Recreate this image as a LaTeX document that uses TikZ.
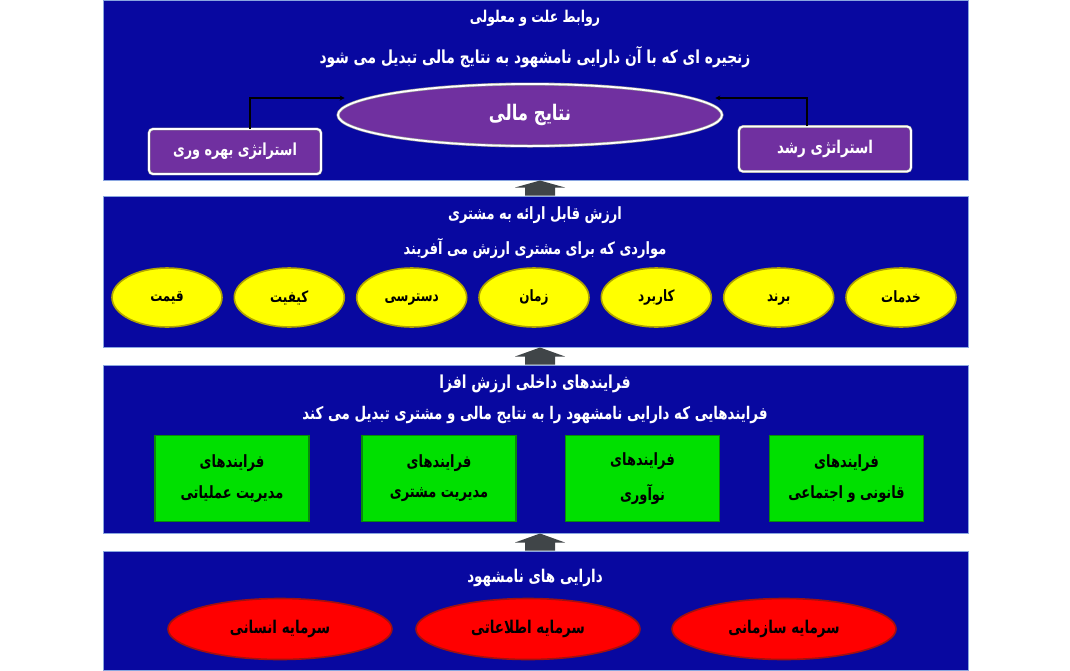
\documentclass[tikz,border=0pt]{standalone}
\usepackage{fontspec}
\usepackage{graphicx}
\TeXXeTstate=1
\newfontfamily\fa[Script=Arabic]{DejaVu Sans}
\usetikzlibrary{shapes.geometric,arrows.meta,calc}
\definecolor{panelblue}{HTML}{0808A0}
\definecolor{paneledge}{HTML}{8AA6E0}
\definecolor{purp}{HTML}{7030A0}
\definecolor{arrowc}{HTML}{404548}
\definecolor{ylw}{HTML}{FFFF00}
\definecolor{ylwedge}{HTML}{B0A400}
\definecolor{grn}{HTML}{00E000}
\definecolor{grnedge}{HTML}{0A8A0A}
\definecolor{rd}{HTML}{FF0000}
\definecolor{rdedge}{HTML}{A01010}
\newcommand\rtltext[1]{\strut\raisebox{-1.5pt}{\scalebox{1}[1.3]{\fa\bfseries\beginR #1\endR}}}
\begin{document}
\begin{tikzpicture}[x=1pt,y=-1pt,
  panel/.style={fill=panelblue,draw=paneledge,line width=1pt,minimum width=865pt,inner sep=0pt},
  ttl/.style={text=white,font=\fontsize{13}{15}\selectfont,inner sep=0pt},
  sub/.style={text=white,font=\fontsize{13.8}{16}\selectfont,inner sep=0pt},
  purpell/.style={ellipse,fill=purp,draw=gray!80,double=white,double distance=1.8pt,line width=0.6pt,minimum width=384pt,minimum height=62pt,inner sep=0pt,text=white,font=\fontsize{16.5}{19}\selectfont},
  purpbox/.style={rounded corners=4pt,fill=purp,draw=gray!80,double=white,double distance=1.8pt,line width=0.5pt,minimum width=172pt,minimum height=45pt,inner sep=0pt,text=white,font=\fontsize{12.8}{15}\selectfont},
  yell/.style={ellipse,fill=ylw,draw=ylwedge,line width=1.6pt,minimum width=110pt,minimum height=59pt,inner sep=0pt,font=\fontsize{12}{14}\selectfont},
  gbox/.style={fill=grn,draw=grnedge,line width=1.5pt,minimum width=154pt,minimum height=86pt,inner sep=0pt,font=\fontsize{13}{15}\selectfont,align=center},
  rell/.style={ellipse,fill=rd,draw=rdedge,line width=1.6pt,minimum width=224pt,minimum height=61pt,inner sep=0pt,font=\fontsize{13.5}{16}\selectfont},
  conn/.style={draw=black,line width=1.6pt,-{Stealth[length=5pt,width=5pt]}},
]
\useasboundingbox (0,0) rectangle (1070,670);
\fill[white] (0,0) rectangle (1070,670);
% panels
\node[panel,minimum height=180pt] (p1) at (535.5,90) {};
\node[panel,minimum height=151pt] (p2) at (535.5,271.5) {};
\node[panel,minimum height=168pt] (p3) at (535.5,449) {};
\node[panel,minimum height=119pt] (p4) at (535.5,610.5) {};
% block arrows between panels
\foreach \lo/\hi in {p2/p1,p3/p2,p4/p3}{
  \fill[arrowc] ($(\lo.north)+(-10.5,0)$) -- ($(\lo.north)+(-10.5,-8)$) -- ($(\lo.north)+(-20.5,-8)$)
    -- ($(\hi.south)+(4.5,0)$) -- ($(\lo.north)+(29.5,-8)$) -- ($(\lo.north)+(19.5,-8)$) -- ($(\lo.north)+(19.5,0)$) -- cycle;
}
% panel 1
\node[ttl,font=\fontsize{12.5}{15}\selectfont] (t1) at (535,18) {\rtltext{روابط علت و معلولی}};
\node[sub] (s1) at (535,57) {\rtltext{زنجیره ای که با آن دارایی نامشهود به نتایج مالی تبدیل می شود}};
\node[purpell] (fin) at (530,115) {\rtltext{نتایج مالی}};
\node[purpbox] (lb) at (235,151.5) {\rtltext{استراتژی بهره وری}};
\node[purpbox,font=\fontsize{13.5}{16}\selectfont] (rb) at (825,149) {\rtltext{استراتژی رشد}};
\draw[conn] ([xshift=15pt]lb.north) |- ([xshift=7pt,yshift=17pt]fin.west);
\draw[conn] ([xshift=-18pt]rb.north) |- ([xshift=-7pt,yshift=17pt]fin.east);
% panel 2
\node[ttl] (t2) at (535,215) {\rtltext{ارزش قابل ارائه به مشتری}};
\node[sub,font=\fontsize{13}{15}\selectfont] (s2) at (535,248) {\rtltext{مواردی که برای مشتری ارزش می آفریند}};
\node[yell] (y1) at (167,297.5) {\rtltext{قیمت}};
\node[yell] (y2) at (289.3,297.5) {\rtltext{کیفیت}};
\node[yell] (y3) at (411.7,297.5) {\rtltext{دسترسی}};
\node[yell] (y4) at (534,297.5) {\rtltext{زمان}};
\node[yell] (y5) at (656.3,297.5) {\rtltext{کاربرد}};
\node[yell] (y6) at (778.7,297.5) {\rtltext{برند}};
\node[yell] (y7) at (901,297.5) {\rtltext{خدمات}};
% panel 3
\node[ttl,font=\fontsize{13.8}{16}\selectfont] (t3) at (535,384) {\rtltext{فرایندهای داخلی ارزش افزا}};
\node[sub,font=\fontsize{13.4}{16}\selectfont] (s3) at (535,415) {\rtltext{فرایندهایی که دارایی نامشهود را به نتایج مالی و مشتری تبدیل می کند}};
\node[gbox] (g1) at (232,478.5) {\rtltext{فرایندهای}\\[13pt]\rtltext{مدیریت عملیاتی}};
\node[gbox] (g2) at (439,478.5) {\rtltext{فرایندهای}\\[13pt]\rtltext{مدیریت مشتری}};
\node[gbox] (g3) at (642.5,478.5) {\rtltext{فرایندهای}\\[13pt]\rtltext{نوآوری}};
\node[gbox] (g4) at (846.5,478.5) {\rtltext{فرایندهای}\\[13pt]\rtltext{قانونی و اجتماعی}};
% panel 4
\node[ttl,font=\fontsize{13.5}{16}\selectfont] (t4) at (535,578) {\rtltext{دارایی های نامشهود}};
\node[rell] (r1) at (280,629) {\rtltext{سرمایه انسانی}};
\node[rell] (r2) at (528,629) {\rtltext{سرمایه اطلاعاتی}};
\node[rell] (r3) at (784,629) {\rtltext{سرمایه سازمانی}};
\end{tikzpicture}
\end{document}
